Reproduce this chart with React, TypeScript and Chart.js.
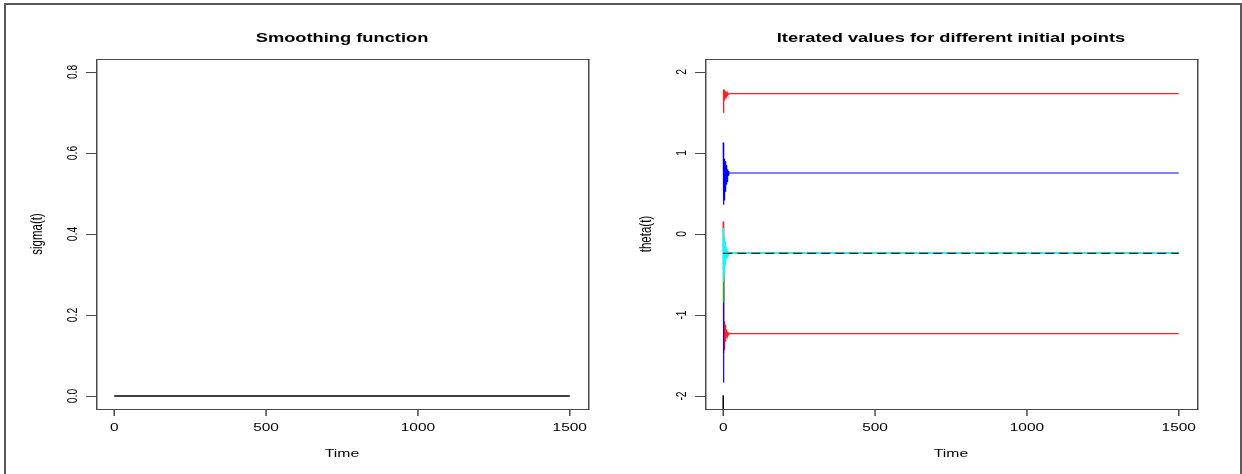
import React, { useEffect, useRef } from "react";
import { Chart, registerables } from "chart.js";
Chart.register(...registerables);

// ---------- data ----------
const sigmaTimes = [0, 1500];
const sigmaValues = [0, 0];

const iterTimes = [0, 1, 2, 3, 4, 5, 6, 7, 8, 9, 10, 11, 12, 13, 14, 15, 16, 17, 18, 19, 20, 1500];
const redTopValues = [1.5, 1.787, 1.62, 1.78, 1.65, 1.77, 1.68, 1.76, 1.7, 1.755, 1.71, 1.75, 1.72, 1.745, 1.725, 1.74, 1.728, 1.736, 1.73, 1.734, 1.732, 1.732];
const blueValues = [1.13, 0.36, 0.955, 0.42, 0.93, 0.47, 0.9, 0.52, 0.87, 0.57, 0.85, 0.61, 0.82, 0.65, 0.8, 0.69, 0.78, 0.72, 0.765, 0.745, 0.753, 0.753];
const redLowValues = [0.154, -1.47, -1.03, -1.42, -1.08, -1.37, -1.12, -1.33, -1.15, -1.3, -1.18, -1.28, -1.2, -1.26, -1.21, -1.245, -1.22, -1.235, -1.225, -1.232, -1.229, -1.229];
const blueLowValues = [-1.83, -0.3, -0.2, -0.27, -0.22, -0.25, -0.23, -0.243, -0.235, -0.24, -0.237, -0.239, -0.238, -0.238, -0.238, -0.238, -0.238, -0.238, -0.238, -0.238, -0.238, -0.238];
const greenValues = [-0.84, -0.1, -0.36, -0.16, -0.3, -0.2, -0.27, -0.22, -0.25, -0.23, -0.243, -0.235, -0.24, -0.237, -0.239, -0.238, -0.238, -0.238, -0.238, -0.238, -0.238, -0.238];
const cyanValues = [0.075, -0.59, 0.02, -0.5, -0.04, -0.44, -0.09, -0.39, -0.13, -0.34, -0.16, -0.31, -0.19, -0.29, -0.21, -0.27, -0.225, -0.25, -0.232, -0.242, -0.238, -0.238];
const referenceTimes = [0, 1500];
const referenceValues = [-0.238, -0.238];
const edgeTimes = [0, 0];
const edgeValues = [-1.99, -2.6];

const timeTicks = [0, 500, 1000, 1500];
const sigmaTicks = [0, 0.2, 0.4, 0.6, 0.8];
const sigmaTickLabels = ["0.0", "0.2", "0.4", "0.6", "0.8"];
const thetaTicks = [-2, -1, 0, 1, 2];
const thetaTickLabels = ["-2", "-1", "0", "1", "2"];

// ---------- helpers ----------
const SX = 1.5;
const FONT = '"Liberation Sans", Arial, Helvetica, sans-serif';

function pts(xs: number[], ys: number[]) {
  return xs.map((x, i) => ({ x, y: ys[i] }));
}

function stretchedText(ctx: CanvasRenderingContext2D, text: string, x: number, y: number, font: string, rotate: boolean) {
  ctx.save();
  ctx.translate(x, y);
  ctx.scale(SX, 1);
  if (rotate) ctx.rotate(-Math.PI / 2);
  ctx.font = font;
  ctx.fillStyle = "#000";
  ctx.textAlign = "center";
  ctx.textBaseline = "alphabetic";
  ctx.fillText(text, 0, 0);
  ctx.restore();
}

function makeDecor(title: string, yLabel: string, yTicks: number[], yTickLabels: string[]) {
  return {
    id: "rdecor",
    afterDraw(chart: any) {
      const { ctx, chartArea: a, scales } = chart;
      const xs = scales.x;
      const ys = scales.y;
      const L = Math.round(a.left);
      const R = Math.round(a.right);
      const T = Math.round(a.top);
      const B = Math.round(a.bottom);
      ctx.save();
      ctx.strokeStyle = "#4a4a4a";
      ctx.lineWidth = 1;
      ctx.beginPath();
      ctx.moveTo(L, T + 0.5);
      ctx.lineTo(R + 1.5, T + 0.5);
      ctx.moveTo(L, B + 0.5);
      ctx.lineTo(R + 1.5, B + 0.5);
      ctx.stroke();
      ctx.lineWidth = 1.5;
      ctx.beginPath();
      ctx.moveTo(L + 0.75, T);
      ctx.lineTo(L + 0.75, B + 1);
      ctx.moveTo(R + 0.75, T);
      ctx.lineTo(R + 0.75, B + 1);
      ctx.stroke();
      ctx.lineWidth = 1.5;
      ctx.beginPath();
      timeTicks.forEach((v) => {
        const px = xs.getPixelForValue(v);
        ctx.moveTo(px, B + 1);
        ctx.lineTo(px, B + 7);
      });
      ctx.stroke();
      ctx.lineWidth = 1;
      ctx.beginPath();
      yTicks.forEach((v) => {
        const py = Math.round(ys.getPixelForValue(v)) + 0.5;
        ctx.moveTo(L, py);
        ctx.lineTo(L - 10, py);
      });
      ctx.stroke();
      ctx.restore();

      const tickFont = `10.3px ${FONT}`;
      timeTicks.forEach((v) => {
        stretchedText(ctx, String(v), xs.getPixelForValue(v), 431, tickFont, false);
      });
      yTicks.forEach((v, i) => {
        stretchedText(ctx, yTickLabels[i], a.left - 19.5, ys.getPixelForValue(v), tickFont, true);
      });
      const cx = (a.left + a.right) / 2;
      const cy = (a.top + a.bottom) / 2;
      stretchedText(ctx, title, cx, 41.5, `bold 12.2px ${FONT}`, false);
      stretchedText(ctx, "Time", cx, 457, `10.5px ${FONT}`, false);
      stretchedText(ctx, yLabel, a.left - 54, cy, `11.5px ${FONT}`, true);
    },
  };
}

function line(data: { x: number; y: number }[], color: string, width: number, dash: number[] = []) {
  return {
    data,
    borderColor: color,
    backgroundColor: color,
    borderWidth: width,
    borderDash: dash,
    pointRadius: 0,
    tension: 0,
    fill: false,
  };
}

function baseOptions(pad: { left: number; right: number; top: number; bottom: number }, ymin: number, ymax: number) {
  return {
    animation: false as const,
    responsive: false,
    devicePixelRatio: 1,
    layout: { padding: pad },
    plugins: { legend: { display: false }, tooltip: { enabled: false } },
    events: [],
    scales: {
      x: { type: "linear" as const, min: -60, max: 1560, display: false },
      y: { type: "linear" as const, min: ymin, max: ymax, display: false },
    },
  };
}

function Panel({ kind, left }: { kind: "sigma" | "theta"; left: number }) {
  const ref = useRef<HTMLCanvasElement | null>(null);
  useEffect(() => {
    if (!ref.current) return;
    let chart: Chart;
    if (kind === "sigma") {
      chart = new Chart(ref.current, {
        type: "line",
        data: { datasets: [line(pts(sigmaTimes, sigmaValues), "#000000", 1.6)] as any },
        options: baseOptions({ left: 96, right: 33, top: 59, bottom: 65 }, -0.032, 0.832) as any,
        plugins: [makeDecor("Smoothing function", "sigma(t)", sigmaTicks, sigmaTickLabels)],
      });
    } else {
      chart = new Chart(ref.current, {
        type: "line",
        data: {
          // first dataset is drawn on top
          datasets: [
            line(pts(referenceTimes, referenceValues), "#000000", 1, [9, 5]),
            line(pts(iterTimes, cyanValues), "#00FFFF", 1.2),
            line(pts(iterTimes, greenValues), "#00CD00", 1.2),
            line(pts(iterTimes, blueLowValues), "#0000FF", 1.2),
            line(pts(iterTimes, redLowValues), "#FF2020", 1.3),
            line(pts(iterTimes, blueValues), "#0000FF", 1.2),
            line(pts(iterTimes, redTopValues), "#FF2020", 1.3),
            line(pts(edgeTimes, edgeValues), "#000000", 1.5),
          ] as any,
        },
        options: baseOptions({ left: 84, right: 45, top: 59, bottom: 65 }, -2.16, 2.16) as any,
        plugins: [makeDecor("Iterated values for different initial points", "theta(t)", thetaTicks, thetaTickLabels)],
      });
    }
    return () => chart.destroy();
  }, [kind]);
  return (
    <canvas
      ref={ref}
      width={621}
      height={474}
      style={{ position: "absolute", left, top: 0, width: 621, height: 474 }}
    />
  );
}

export default function App() {
  return (
    <div style={{ position: "absolute", left: 0, top: 0, width: 1242, height: 474, overflow: "hidden", background: "#fff" }}>
      <Panel kind="sigma" left={0} />
      <Panel kind="theta" left={621} />
      <div
        style={{
          position: "absolute",
          left: 4,
          top: 3,
          width: 1238,
          height: 520,
          border: "2px solid #5a5a5a",
          boxSizing: "border-box",
          pointerEvents: "none",
        }}
      />
    </div>
  );
}
